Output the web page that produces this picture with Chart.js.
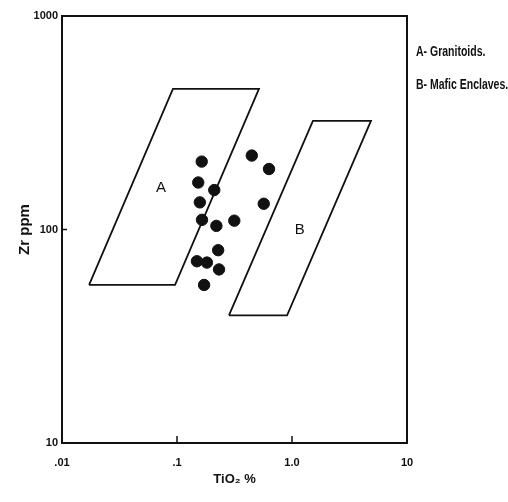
<!DOCTYPE html>
<html>
<head>
<meta charset="utf-8">
<script src="https://cdn.jsdelivr.net/npm/chart.js@4.4.1/dist/chart.umd.min.js"></script>
<style>
  html, body { margin: 0; padding: 0; background: #fff; }
  #wrap { width: 508px; height: 502px; }
</style>
</head>
<body>
<div id="wrap"><canvas id="zrTiO2" width="508" height="502"></canvas></div>
<script>
// axis ticks
const xTicks = [0.01, 0.1, 1, 10];
const xTickLabels = [".01", ".1", "1.0", "10"];
const yTicks = [10, 100, 1000];
const yTickLabels = ["10", "100", "1000"];

// samples (TiO2 %, Zr ppm)
const sampleTiO2 = [0.164, 0.153, 0.211, 0.158, 0.165, 0.220, 0.315, 0.228, 0.149, 0.182, 0.232, 0.172, 0.447, 0.631, 0.568];
const sampleZr = [208, 166, 153, 134, 111, 104, 110, 80, 71, 70, 65, 55, 222, 192, 132];

// field outlines, closed
const fieldATiO2 = [0.0172, 0.0962, 0.516, 0.0922, 0.0172];
const fieldAZr = [55, 55, 456, 456, 55];
const fieldBTiO2 = [0.283, 0.906, 4.86, 1.52, 0.283];
const fieldBZr = [39.6, 39.6, 323, 323, 39.6];

const fieldLabels = ["A", "B"];
const fieldLabelTiO2 = [0.0726, 1.17];
const fieldLabelZr = [157, 100];

const legendLines = ["A- Granitoids.", "B- Mafic Enclaves."];

const fontFamily = "'Liberation Sans', Arial, sans-serif";

function toPoints(xs, ys) {
    return xs.map((x, i) => ({ x: x, y: ys[i] }));
}

// frame, inner tick marks, field letters and the key on the right
const extras = {
    id: "extras",
    afterDraw(chart) {
        const ctx = chart.ctx;
        const area = chart.chartArea;
        const xs = chart.scales.x;
        const ys = chart.scales.y;
        ctx.save();
        ctx.strokeStyle = "#111";
        ctx.lineWidth = 2;
        ctx.strokeRect(area.left, area.top, area.right - area.left, area.bottom - area.top);

        ctx.lineWidth = 1.5;
        ctx.beginPath();
        xTicks.slice(1, -1).forEach(v => {
            const px = xs.getPixelForValue(v);
            ctx.moveTo(px, area.bottom);
            ctx.lineTo(px, area.bottom - 7);
        });
        yTicks.slice(1, -1).forEach(v => {
            const py = ys.getPixelForValue(v);
            ctx.moveTo(area.left, py);
            ctx.lineTo(area.left + 5, py);
        });
        ctx.stroke();

        ctx.fillStyle = "#111";
        ctx.font = "15px " + fontFamily;
        ctx.textAlign = "center";
        ctx.textBaseline = "middle";
        fieldLabels.forEach((t, i) => {
            ctx.fillText(t, xs.getPixelForValue(fieldLabelTiO2[i]), ys.getPixelForValue(fieldLabelZr[i]));
        });

        // narrow key text, squeezed like the original print
        ctx.font = "bold 14px " + fontFamily;
        ctx.textAlign = "left";
        ctx.translate(area.right + 9, 0);
        ctx.scale(0.75, 1);
        legendLines.forEach((t, i) => {
            ctx.fillText(t, 0, area.top + 36 + i * 33);
        });
        ctx.restore();
    }
};

const ctx = document.getElementById("zrTiO2").getContext("2d");

const zrChart = new Chart(ctx, {
    type: "scatter",
    data: {
        datasets: [
            {
                label: "Samples",
                data: toPoints(sampleTiO2, sampleZr),
                backgroundColor: "#111",
                borderColor: "#111",
                pointRadius: 5.7,
                pointHoverRadius: 5.7,
            },
            {
                label: "A",
                data: toPoints(fieldATiO2, fieldAZr),
                showLine: true,
                borderColor: "#111",
                borderWidth: 1.8,
                pointRadius: 0,
                tension: 0,
            },
            {
                label: "B",
                data: toPoints(fieldBTiO2, fieldBZr),
                showLine: true,
                borderColor: "#111",
                borderWidth: 1.8,
                pointRadius: 0,
                tension: 0,
            },
        ],
    },
    options: {
        responsive: false,
        animation: false,
        layout: {
            padding: { left: 0, right: 101, top: 16, bottom: 0 },
        },
        plugins: {
            legend: { display: false },
            tooltip: { enabled: false },
        },
        scales: {
            x: {
                type: "logarithmic",
                min: 0.01,
                max: 10,
                grid: { display: false, drawTicks: false },
                border: { display: false },
                afterBuildTicks: axis => {
                    axis.ticks = xTicks.map(v => ({ value: v }));
                },
                afterFit: axis => {
                    axis.height = 59;
                },
                ticks: {
                    padding: 13,
                    color: "#111",
                    font: { family: fontFamily, size: 11, weight: "bold" },
                    maxRotation: 0,
                    callback: (v) => xTickLabels[xTicks.indexOf(v)],
                },
                title: {
                    display: true,
                    text: "TiO\u2082 %",
                    color: "#111",
                    font: { family: fontFamily, size: 13, weight: "bold" },
                    padding: { top: 2, bottom: 15 },
                },
            },
            y: {
                type: "logarithmic",
                min: 10,
                max: 1000,
                grid: { display: false, drawTicks: false },
                border: { display: false },
                afterBuildTicks: axis => {
                    axis.ticks = yTicks.map(v => ({ value: v }));
                },
                afterFit: axis => {
                    axis.width = 62;
                },
                ticks: {
                    padding: 4,
                    color: "#111",
                    font: { family: fontFamily, size: 11, weight: "bold" },
                    callback: (v) => yTickLabels[yTicks.indexOf(v)],
                },
                title: {
                    display: true,
                    text: "Zr ppm",
                    color: "#111",
                    font: { family: fontFamily, size: 15, weight: "bold" },
                    padding: { top: 16, bottom: 0 },
                },
            },
        },
    },
    plugins: [extras],
});
</script>
</body>
</html>
